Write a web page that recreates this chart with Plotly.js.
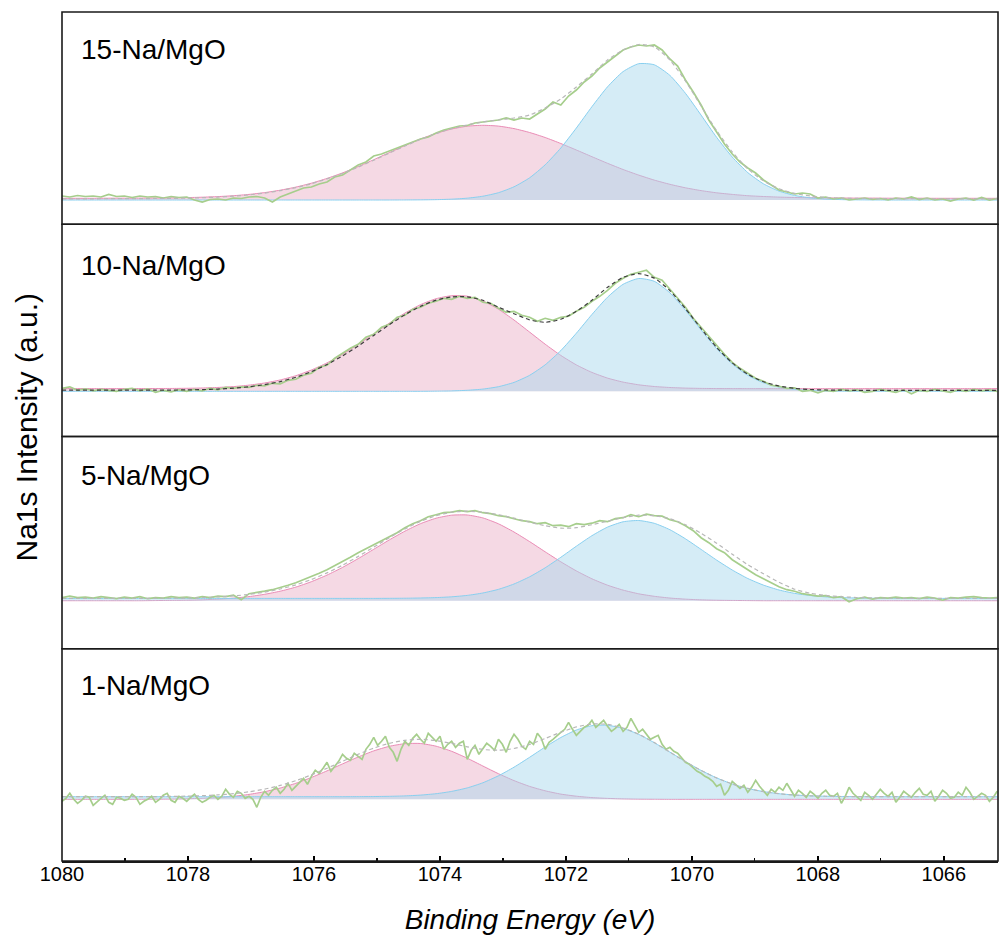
<!DOCTYPE html>
<html><head><meta charset="utf-8">
<script src="https://cdn.plot.ly/plotly-3.0.1.min.js"></script>
<style>html,body{margin:0;padding:0;background:#fff;} #chart{width:1000px;height:936px;}</style>
</head><body><div id="chart"></div>
<script>
// Binding-energy grids (eV)
const energyFit = [1080,1079.753,1079.505,1079.258,1079.010,1078.763,1078.515,1078.268,1078.020,1077.773,
1077.525,1077.278,1077.031,1076.783,1076.536,1076.288,1076.041,1075.793,1075.546,1075.298,
1075.051,1074.803,1074.556,1074.309,1074.061,1073.814,1073.566,1073.319,1073.071,1072.824,
1072.576,1072.329,1072.081,1071.834,1071.587,1071.339,1071.092,1070.844,1070.597,1070.349,
1070.102,1069.854,1069.607,1069.359,1069.112,1068.864,1068.617,1068.370,1068.122,1067.875,
1067.627,1067.380,1067.132,1066.885,1066.637,1066.390,1066.143,1065.895,1065.648,1065.400,1065.153];

const energyRaw = [1080,1079.876,1079.753,1079.629,1079.505,1079.381,1079.258,1079.134,1079.010,1078.887,
1078.763,1078.639,1078.515,1078.392,1078.268,1078.144,1078.020,1077.897,1077.773,1077.649,
1077.525,1077.402,1077.278,1077.154,1077.031,1076.907,1076.783,1076.660,1076.536,1076.412,
1076.288,1076.165,1076.041,1075.917,1075.793,1075.670,1075.546,1075.422,1075.298,1075.175,
1075.051,1074.927,1074.803,1074.680,1074.556,1074.432,1074.309,1074.185,1074.061,1073.938,
1073.814,1073.690,1073.566,1073.443,1073.319,1073.195,1073.071,1072.948,1072.824,1072.700,
1072.576,1072.453,1072.329,1072.205,1072.081,1071.958,1071.834,1071.710,1071.587,1071.463,
1071.339,1071.216,1071.092,1070.968,1070.844,1070.721,1070.597,1070.473,1070.349,1070.226,
1070.102,1069.978,1069.854,1069.731,1069.607,1069.483,1069.359,1069.236,1069.112,1068.988,
1068.864,1068.741,1068.617,1068.493,1068.370,1068.246,1068.122,1067.998,1067.875,1067.751,
1067.627,1067.504,1067.380,1067.256,1067.132,1067.009,1066.885,1066.761,1066.637,1066.514,
1066.390,1066.266,1066.143,1066.019,1065.895,1065.771,1065.648,1065.524,1065.400,1065.276,1065.153];

// finer grid used by the noisy 1-Na/MgO scan
const energyRawFine = [1080.000,1079.938,1079.876,1079.814,1079.753,1079.691,1079.629,1079.567,1079.505,1079.443,
1079.381,1079.319,1079.258,1079.196,1079.134,1079.072,1079.010,1078.948,1078.887,1078.825,
1078.763,1078.701,1078.639,1078.577,1078.515,1078.453,1078.392,1078.330,1078.268,1078.206,
1078.144,1078.082,1078.020,1077.958,1077.897,1077.835,1077.773,1077.711,1077.649,1077.587,
1077.525,1077.464,1077.402,1077.340,1077.278,1077.216,1077.154,1077.092,1077.031,1076.969,
1076.907,1076.845,1076.783,1076.721,1076.660,1076.598,1076.536,1076.474,1076.412,1076.350,
1076.288,1076.226,1076.165,1076.103,1076.041,1075.979,1075.917,1075.855,1075.793,1075.731,
1075.670,1075.608,1075.546,1075.484,1075.422,1075.360,1075.298,1075.236,1075.175,1075.113,
1075.051,1074.989,1074.927,1074.865,1074.803,1074.741,1074.680,1074.618,1074.556,1074.494,
1074.432,1074.370,1074.309,1074.247,1074.185,1074.123,1074.061,1073.999,1073.938,1073.876,
1073.814,1073.752,1073.690,1073.628,1073.566,1073.504,1073.443,1073.381,1073.319,1073.257,
1073.195,1073.133,1073.071,1073.009,1072.948,1072.886,1072.824,1072.762,1072.700,1072.638,
1072.576,1072.514,1072.453,1072.391,1072.329,1072.267,1072.205,1072.143,1072.081,1072.019,
1071.958,1071.896,1071.834,1071.772,1071.710,1071.648,1071.587,1071.525,1071.463,1071.401,
1071.339,1071.277,1071.216,1071.154,1071.092,1071.030,1070.968,1070.906,1070.844,1070.782,
1070.721,1070.659,1070.597,1070.535,1070.473,1070.411,1070.349,1070.287,1070.226,1070.164,
1070.102,1070.040,1069.978,1069.916,1069.854,1069.793,1069.731,1069.669,1069.607,1069.545,
1069.483,1069.421,1069.359,1069.297,1069.236,1069.174,1069.112,1069.050,1068.988,1068.926,
1068.864,1068.802,1068.741,1068.679,1068.617,1068.555,1068.493,1068.431,1068.370,1068.308,
1068.246,1068.184,1068.122,1068.060,1067.998,1067.936,1067.875,1067.813,1067.751,1067.689,
1067.627,1067.565,1067.504,1067.442,1067.380,1067.318,1067.256,1067.194,1067.132,1067.070,
1067.009,1066.947,1066.885,1066.823,1066.761,1066.699,1066.637,1066.575,1066.514,1066.452,
1066.390,1066.328,1066.266,1066.204,1066.143,1066.081,1066.019,1065.957,1065.895,1065.833,
1065.771,1065.709,1065.648,1065.586,1065.524,1065.462,1065.400,1065.338,1065.276,1065.214,1065.153];

const panelLabels = ['15-Na/MgO','10-Na/MgO','5-Na/MgO','1-Na/MgO'];
const tickValues = [1080,1078,1076,1074,1072,1070,1068,1066];

// ---- 15-Na/MgO ----
const raw15 = [4,3,4.5,3.5,4,3,5.5,3.5,4,2.5,
4,3,3.5,2,3.5,2.5,3,0,-2,0.5,
1,0,2,1.5,3,3.5,2,-2,3,6,
9,12,13,16,18,23,25,30,35,38,
44,46,49,52,55,58,61,63,67,70,
72,74,74.5,77,78,79,80,82,80,82,
81,86,91,98,95,104,110,118,124,132,
138,144,150,153,155,154,155,150,141,134,
120,108,95,80,68,56,46,38,32,27,
20,15,10,8,6,7,6,2,3,1,
2,0,1,2,0.5,1.5,0,2,1,3,
0.5,2,0,1,-1,1,2,0,2.5,0,1.5];
const env15 = [1.2,1.2,1.2,1.3,1.3,1.4,1.5,1.6,1.9,2.3,
2.9,3.8,5.1,6.9,9.3,12.4,16.3,21.1,26.6,32.9,
39.8,46.9,54.0,60.6,66.5,71.3,75.1,78.0,80.0,82.0,
85,92,101,113,126,140,150,155.5,153,140,
119,94,69.4,48.1,31.2,19.2,11.3,6.6,4.0,2.55,
1.9,1.55,1.45,1.3,1.3,1.3,1.2,1.2,1.2,1.2,1.2];
const pink15 = [1.7,1.7,1.7,1.8,1.8,1.9,2.0,2.1,2.4,2.8,
3.4,4.3,5.6,7.4,9.8,12.9,16.8,21.6,27.1,33.4,
40.3,47.4,54.4,61.0,66.6,71.0,73.8,74.7,73.9,71.4,
67.5,62.5,56.5,50.0,43.3,36.7,30.5,24.9,19.9,15.7,
12.2,9.4,7.2,5.6,4.3,3.5,2.9,2.5,2.3,2.1,
2.0,1.9,1.9,1.8,1.8,1.8,1.7,1.7,1.7,1.7,1.7];
const blue15 = [0,0,0,0,0,0,0,0,0,0,
0,0,0,0,0,0,0,0,0,0,
0,0,0.05,0.14,0.35,0.83,1.83,3.77,7.29,13.2,
22.2,35.2,52.0,72.0,93.3,113.2,128.4,136.3,135.2,124.6,
106.7,84.9,62.7,43.0,27.4,16.2,8.9,4.6,2.2,0.95,
0.39,0.15,0.05,0,0,0,0,0,0,0,0];

// ---- 10-Na/MgO ----
const raw10 = [3,4.5,1,2.5,0.5,2,1,0,2,3,
0.5,2.5,-1,1,-0.5,1.5,0,2,0.5,3,
1.5,4,3,4.5,4,6,5.5,8,7.5,11,
12,16,18,24,26,33,38,43,47,54,
57,64,67,74,76,82,84,88,90,93,
92,95,93,94,89,88,83,79,80,76,
74,70,73,71,74,75,80,84,90,95,
101,108,113,117,119,121,114,111,102,93,
84,73,64,54,45,37,29,23,18,13,
10,6,5,3,3.5,0,1,-1.5,1,0,
2,0.5,1.5,-1,0,2,0.5,-1,1.5,-2.5,
1,0,2,0.5,-1,1.5,0,2,0.5,1.5,0];
const env10 = [1.1,1.1,1.1,1.1,1.1,1.15,1.2,1.25,1.4,1.7,
2.25,3.1,4.55,6.7,9.75,14.0,19.7,26.8,35.4,45.3,
55.9,66.6,76.6,85.0,91.15,94.4,94.5,91.0,84.1,77.6,
71.5,69,72,80,91,104,114,117.7,113.2,100.7,
82.7,62.7,43.8,28.4,17.0,9.6,5.3,2.95,1.8,1.3,
1.1,1.0,1.0,1.0,1.0,1.0,1.0,1.0,1.0,1.0,1.0];
const pink10 = [2.7,2.7,2.7,2.7,2.7,2.75,2.8,2.85,3.0,3.3,
3.85,4.7,6.15,8.3,11.35,15.6,21.3,28.4,37.0,46.9,
57.5,68.2,78.2,86.6,92.6,95.6,95.1,90.4,82.1,71.3,
59.2,47.1,35.9,26.4,18.9,13.2,9.2,6.5,4.8,3.8,
3.2,2.9,2.75,2.7,2.65,2.65,2.65,2.65,2.65,2.65,
2.65,2.65,2.65,2.65,2.65,2.65,2.65,2.65,2.65,2.65,2.65];
const blue10 = [0,0,0,0,0,0,0,0,0,0,
0,0,0,0,0,0,0,0,0,0,
0,0,0,0,0.15,0.4,1.0,2.2,4.6,8.9,
16.0,26.5,40.7,58.1,76.8,94.1,107.0,112.8,110.0,98.5,
81.1,61.4,42.7,27.3,16.0,8.6,4.3,1.95,0.8,0.3,
0.1,0,0,0,0,0,0,0,0,0,0];

// ---- 5-Na/MgO ----
const raw5 = [3,4.5,3,3.5,2.5,4,3,2,3.5,2.5,
4,2,3,2.5,4,3,3.5,2.5,4,3,
4.5,4,5.5,1,7,8,9.5,11,13,15.5,
18,21,24,27.5,31,35,39,43.5,48,52,
56,60,64,68,73,77,80,84,86,88,
88.5,90,89,90,88,87,85,84,82,80,
79,77,78,75,75.5,74,77,76,77.5,80,
79,82,83,86,84,86.5,85,84.5,81,79,
75,70,63,58,52,48,41,36,31,26,
22,18,14,11,9.5,7,6,4.5,5,3,
4,-1,2,3.5,1.5,3,2.5,3.5,2.5,3,
2,3.5,2.5,0.5,3,2.5,3.5,4,3,2.5,3];
const env5 = [2.3,2.3,2.3,2.3,2.3,2.3,2.4,2.5,2.7,3.1,
3.8,4.8,6.3,8.6,11.7,15.8,21.2,27.8,35.5,44.3,
53.6,63.0,71.7,79.4,85.0,88.5,89.5,88.5,86,82.5,
78.5,75,72.5,73,76,79.5,83,85.5,85,82,
76,67.5,57.5,46.5,36,27,18.5,11.5,7.5,5.3,
4,3.2,2.8,2.5,2.3,2.3,2.3,2.3,2.3,2.3,2.3];
const pink5 = [0,0,0,0,0,0,0.15,0.3,0.5,0.9,
1.6,2.6,4.1,6.4,9.5,13.6,19.0,25.6,33.3,42.1,
51.4,60.8,69.5,77.0,82.5,85.5,85.7,82.8,76.9,68.7,
59.1,48.9,38.9,29.8,21.9,15.5,10.6,6.9,4.4,2.65,
1.55,0.87,0.47,0.25,0.12,0,0,0,0,0,
0,0,0,0,0,0,0,0,0,0,0];
const blue5 = [2.3,2.3,2.3,2.3,2.3,2.3,2.3,2.3,2.3,2.3,
2.3,2.3,2.3,2.3,2.3,2.3,2.3,2.3,2.3,2.3,
2.3,2.37,2.47,2.7,3.1,3.9,5.3,7.7,11.35,16.7,
23.9,32.9,43.4,54.5,65.0,73.6,78.9,80.2,77.4,71.0,
61.9,51.3,40.6,30.7,22.2,15.6,10.7,7.35,5.2,3.85,
3.1,2.7,2.5,2.4,2.3,2.3,2.3,2.3,2.3,2.3,2.3];

// ---- 1-Na/MgO (values on energyRawFine) ----
const raw1 = [-2,1,6,0,-4,-1,3,2,-6,-2,
1,4,-3,-5,2,1,-1,0,5,2,
-5,-2,0,3,-3,0,4,6,-1,-3,
3,1,-2,2,5,0,-3,-1,2,4,
0,3,10,5,2,8,6,1,3,0,
-8,2,8,4,9,12,6,10,16,9,
13,18,21,15,23,29,26,31,37,28,
33,38,45,41,39,46,43,40,50,55,
62,54,58,63,52,47,38,50,58,54,
61,65,60,56,66,62,58,63,50,55,
58,52,56,58,40,49,54,45,50,56,
53,49,60,55,47,58,65,60,53,50,
58,55,66,61,50,57,60,64,67,70,
77,70,64,68,72,74,79,72,76,79,
73,68,71,75,68,72,81,74,67,70,
65,60,62,64,55,50,52,48,46,42,
37,35,31,28,26,23,21,18,13,15,
4,9,18,14,11,14,7,12,19,13,
8,4,10,7,12,9,16,10,3,9,
6,2,8,5,1,6,9,4,3,6,
-4,3,12,6,2,-1,7,4,0,5,
10,6,3,7,-3,2,8,5,2,7,
11,5,4,8,-2,3,9,6,1,2,
7,4,12,7,0,3,6,4,-2,2,8];
const env1 = [2.6,2.6,2.6,2.6,2.6,2.66,2.74,2.88,3.15,3.6,
4.4,5.6,7.5,10.2,13.85,18.6,24.4,31.0,38.0,45.0,
51.2,56.0,59.0,60.0,58.7,55.9,52.5,49.8,49.1,50.8,
54.9,60.8,67.0,72.4,75.3,74.9,71.35,65.1,56.7,47.2,
37.7,28.9,21.4,15.3,10.85,7.7,5.6,4.3,3.5,3.05,
2.8,2.7,2.64,2.6,2.6,2.6,2.6,2.6,2.6,2.6,2.6];
const pink1 = [0,0,0,0,0,0.06,0.14,0.28,0.55,1.0,
1.8,3.0,4.9,7.6,11.25,16.0,21.8,28.4,35.4,42.3,
48.4,53.0,55.6,55.8,53.1,48.0,41.1,33.3,25.6,18.7,
12.9,8.5,5.2,3.1,1.7,0.9,0.45,0.2,0.1,0,
0,0,0,0,0,0,0,0,0,0,
0,0,0,0,0,0,0,0,0,0,0];
const blue1 = [2.6,2.6,2.6,2.6,2.6,2.6,2.6,2.6,2.6,2.6,
2.6,2.6,2.6,2.6,2.6,2.6,2.6,2.6,2.6,2.67,
2.77,2.98,3.4,4.2,5.6,7.9,11.4,16.5,23.5,32.1,
42.0,52.3,61.8,69.3,73.6,74.0,70.9,64.9,56.6,47.2,
37.7,28.9,21.4,15.3,10.85,7.7,5.6,4.3,3.5,3.05,
2.8,2.7,2.64,2.6,2.6,2.6,2.6,2.6,2.6,2.6,2.6];

const panels = [
  {rawX: energyRaw,     raw: raw15, env: env15, pink: pink15, blue: blue15, envColor: '#B8B8B8', ya: 'y',  labelY: 150.7, range: [-24.25, 188], domain: [0.75, 1]},
  {rawX: energyRaw,     raw: raw10, env: env10, pink: pink10, blue: blue10, envColor: '#3C3C3C', ya: 'y2', labelY: 126.3, range: [-45.2, 167.05], domain: [0.5, 0.75]},
  {rawX: energyRaw,     raw: raw5,  env: env5,  pink: pink5,  blue: blue5,  envColor: '#B8B8B8', ya: 'y3', labelY: 125.0, range: [-48.05, 164.2], domain: [0.25, 0.5]},
  {rawX: energyRawFine, raw: raw1,  env: env1,  pink: pink1,  blue: blue1,  envColor: '#B8B8B8', ya: 'y4', labelY: 114.3, range: [-61.7, 150.55], domain: [0, 0.25]}
];

const FONT = 'Liberation Sans, Arial, Helvetica, sans-serif';
const traces = [];
const annotations = [];
const shapes = [];
const layout = {
  width: 1000, height: 936,
  margin: {l: 62, r: 2, t: 12, b: 75},
  paper_bgcolor: '#ffffff', plot_bgcolor: '#ffffff',
  showlegend: false,
  font: {family: FONT, color: '#000'},
  xaxis: {
    range: [1080, 1065.14], anchor: 'y4', domain: [0, 1],
    tickmode: 'array', tickvals: tickValues,
    ticks: 'inside', ticklen: 5, tickwidth: 1.5, tickcolor: '#000',
    ticklabelstandoff: -6,
    showline: true, linecolor: '#1a1a1a', linewidth: 1.6,
    showgrid: false, zeroline: false,
    tickfont: {family: FONT, size: 20, color: '#000'},
    minor: {ticks: 'inside', ticklen: 3, tickwidth: 1.2, tickcolor: '#000', tick0: 1079, dtick: 2, showgrid: false},
    title: {text: '<i>Binding Energy (eV)</i>', font: {family: FONT, size: 28, color: '#000'}, standoff: 26}
  }
};

panels.forEach((p, k) => {
  traces.push({x: energyFit, y: p.pink, type: 'scatter', mode: 'lines', xaxis: 'x', yaxis: p.ya,
    line: {color: '#E98BB5', width: 1, shape: 'spline', smoothing: 0.6},
    fill: 'tozeroy', fillcolor: 'rgba(235,179,201,0.5)', hoverinfo: 'skip'});
  traces.push({x: energyFit, y: p.blue, type: 'scatter', mode: 'lines', xaxis: 'x', yaxis: p.ya,
    line: {color: '#88CFEF', width: 1, shape: 'spline', smoothing: 0.6},
    fill: 'tozeroy', fillcolor: 'rgba(167,215,236,0.48)', hoverinfo: 'skip'});
  traces.push({x: p.rawX, y: p.raw, type: 'scatter', mode: 'lines', xaxis: 'x', yaxis: p.ya,
    line: {color: '#A6CE8C', width: 1.7}, hoverinfo: 'skip'});
  traces.push({x: energyFit, y: p.env, type: 'scatter', mode: 'lines', xaxis: 'x', yaxis: p.ya,
    line: {color: p.envColor, width: 1.2, dash: '4px,3px', shape: 'spline', smoothing: 0.6}, hoverinfo: 'skip'});

  const key = k === 0 ? 'yaxis' : 'yaxis' + (k + 1);
  layout[key] = {domain: p.domain, range: p.range, visible: false, fixedrange: true};

  annotations.push({text: panelLabels[k], xref: 'paper', x: 0.018, xanchor: 'left',
    yref: p.ya, y: p.labelY, yanchor: 'middle', showarrow: false,
    font: {family: FONT, size: 28, color: '#000'}});

  shapes.push({type: 'rect', xref: 'paper', yref: 'paper', x0: 0, x1: 1, y0: p.domain[0], y1: p.domain[1],
    line: {color: '#1a1a1a', width: 1.6}, fillcolor: 'rgba(0,0,0,0)', layer: 'above'});
});

annotations.push({text: 'Na1s Intensity (a.u.)', xref: 'paper', yref: 'paper', x: -0.0374, y: 0.5106,
  xanchor: 'center', yanchor: 'middle', textangle: -90, showarrow: false,
  font: {family: FONT, size: 30, color: '#000'}});

layout.annotations = annotations;
layout.shapes = shapes;

Plotly.newPlot('chart', traces, layout, {displayModeBar: false, staticPlot: true});
</script>
</body></html>
